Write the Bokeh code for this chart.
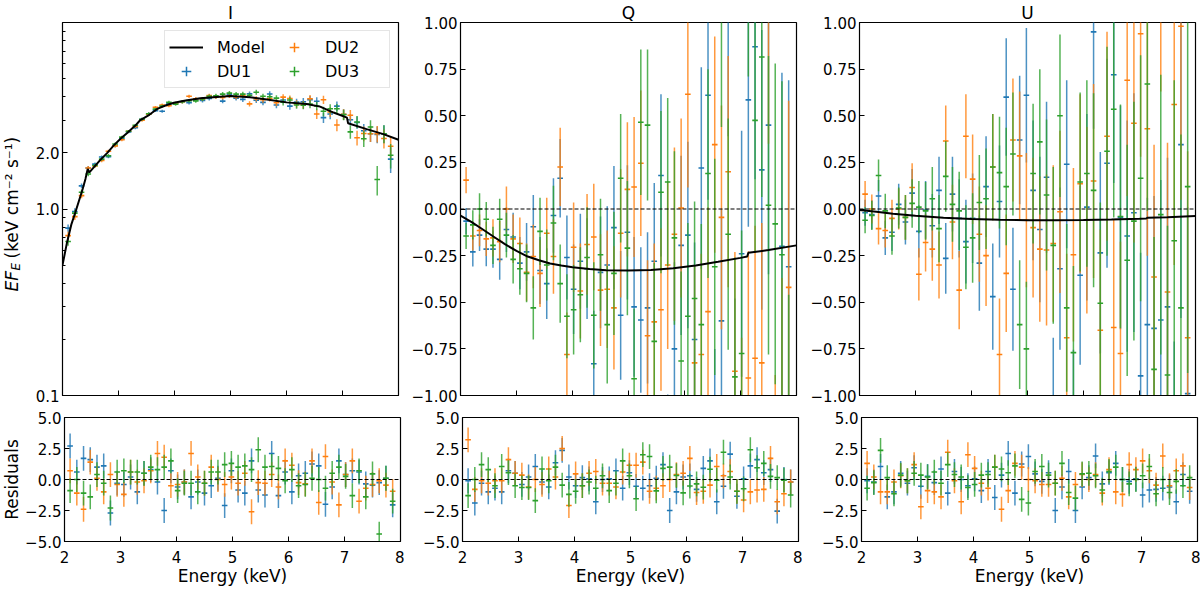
import numpy as np

from bokeh.plotting import figure
from bokeh.layouts import column, row
from bokeh.models import ColumnDataSource, Range1d, FixedTicker, Span, Legend, LegendItem
from bokeh.core.properties import value
from bokeh.embed import file_html
from bokeh.resources import INLINE

font = 'DejaVu Sans'
tick_font_size = '15px'
label_font_size = '17px'
du_colors = ['#1f77b4', '#ff7f0e', '#2ca02c']
du_names = ['DU1', 'DU2', 'DU3']
x_half_width = 0.05
frame_w = 336
top_h = 373
res_h = 124
label_w = 22

# bin centres (keV)
energy = [2.10, 2.22, 2.34, 2.46, 2.58, 2.70, 2.82, 2.94, 3.06, 3.18, 3.30, 3.42, 3.54,
          3.66, 3.78, 3.90, 4.02, 4.14, 4.26, 4.38, 4.50, 4.62, 4.74, 4.86, 4.98, 5.10,
          5.22, 5.34, 5.46, 5.58, 5.70, 5.82, 5.94, 6.06, 6.18, 6.30, 6.42, 6.54, 6.66,
          6.78, 6.90, 7.02, 7.14, 7.26, 7.38, 7.50, 7.62, 7.74, 7.86]
energy_ticks = [2, 3, 4, 5, 6, 7, 8]

# Stokes I  (E F_E)
i_du1 = [0.79, 0.97, 1.33, 1.66, 1.74, 1.90, 1.91, 2.19, 2.38, 2.59, 2.73, 3.03, 3.23, 3.37,
         3.34, 3.67, 3.68, 3.77, 3.72, 3.86, 3.82, 3.91, 4.00, 3.79, 4.11, 3.93, 3.87, 4.15,
         3.83, 3.73, 4.14, 3.61, 3.84, 3.56, 3.74, 3.76, 3.86, 3.78, 3.09, 3.23, 3.56, 3.22,
         3.01, 2.91, 2.63, 2.53, 2.51, 2.53, 1.85]
i_du2 = [0.72, 0.91, 1.18, 1.66, 1.70, 1.82, 2.04, 2.18, 2.35, 2.61, 2.77, 2.99, 3.22, 3.51,
         3.61, 3.58, 3.69, 3.76, 4.02, 3.90, 3.89, 4.06, 3.99, 3.97, 4.05, 3.99, 4.06, 3.66,
         3.90, 3.85, 3.91, 3.71, 3.98, 3.91, 3.66, 3.62, 3.90, 3.23, 3.85, 3.31, 2.82, 3.22,
         3.18, 2.41, 2.54, 2.53, 2.53, 2.39, 2.17]
i_du3 = [0.67, 0.95, 1.23, 1.54, 1.71, 1.85, 1.93, 2.23, 2.43, 2.61, 2.81, 3.03, 3.24, 3.43,
         3.56, 3.73, 3.65, 3.76, 3.81, 3.80, 3.89, 4.02, 4.05, 4.13, 4.18, 4.13, 4.13, 4.07,
         4.23, 4.02, 4.00, 3.93, 3.74, 3.84, 3.61, 3.60, 3.65, 3.57, 3.34, 3.45, 3.45, 3.20,
         2.59, 2.93, 2.38, 2.75, 1.44, 2.53, 1.94]
i_err = [0.035, 0.038, 0.038, 0.040, 0.037, 0.037, 0.040, 0.044, 0.043, 0.046, 0.050, 0.054,
         0.057, 0.061, 0.063, 0.072, 0.074, 0.076, 0.084, 0.085, 0.094, 0.095, 0.104, 0.104,
         0.113, 0.113, 0.120, 0.120, 0.126, 0.132, 0.139, 0.144, 0.150, 0.156, 0.166, 0.176,
         0.180, 0.190, 0.195, 0.200, 0.210, 0.210, 0.210, 0.220, 0.230, 0.240, 0.260, 0.280, 0.290]

# Stokes Q and U (normalised)
q_du1 = [-0.065, -0.23, -0.14, -0.215, -0.215, -0.27, -0.11, -0.15, -0.29, -0.23, -0.095, -0.33,
         -0.40, -0.035, 0.165, -0.26, -0.43, -0.28, -0.32, -0.83, -0.34, -0.30, -0.10, -0.57,
         -0.125, -0.525, -0.595, -0.53, -0.28, 0.18, -1.445, -0.75, -0.195, -0.14, -0.70, 0.22,
         0.61, -1.33, -0.60, 1.01, -1.12, -0.24, 0.585, 0.87, 0.21, 0.45, -2.43, -0.20, -0.31]
q_du2 = [0.155, -0.145, -0.115, -0.16, -0.155, -0.175, 0.0, -0.16, -0.185, -0.34, -0.255, -0.345,
         -0.13, -0.255, 0.225, -0.78, -0.205, -0.44, -0.19, -0.15, -0.435, -0.43, -0.53, -0.13,
         0.105, 0.118, 0.245, -0.68, -0.605, -0.54, -0.30, -0.135, 0.005, 0.615, -0.825, -0.78,
         -0.55, 0.345, -0.045, 0.20, -0.87, -1.35, -0.906, -0.80, -0.825, 1.15, -1.75, -1.30, -0.42]
q_du3 = [-0.145, -0.085, 0.0, -0.055, -0.195, -0.055, -0.14, -0.27, -0.32, -0.345, -0.53, -0.12,
         -0.30, -0.075, -0.40, -0.575, -0.54, -0.46, -0.26, -0.57, -0.245, -0.62, -0.345, 0.165,
         -0.21, -0.91, 0.465, 0.45, -0.71, 0.09, 0.145, -0.155, -0.815, -0.575, -0.48, -0.62,
         0.19, -0.31, 1.04, -0.135, -0.90, -0.775, 1.39, 0.475, 0.815, 0.02, -0.08, -0.245, -1.46]
u_du1 = [-0.02, -0.03, 0.07, -0.155, -0.125, 0.025, -0.07, 0.085, -0.12, -0.005, -0.09, 0.10,
         -0.265, 0.08, -0.05, -0.175, -0.05, -0.29, 0.12, -0.47, 0.04, 0.60, -0.43, 0.37, 0.61,
         0.10, -0.11, 0.17, -1.11, -0.32, 0.24, -1.22, -0.355, 0.01, 0.95, -0.235, 0.245, 0.72,
         -0.045, -0.145, -0.02, -0.895, -0.62, -0.64, -0.595, -0.525, -1.57, 0.345, -0.99]
u_du2 = [0.08, 0.0, -0.105, -0.115, -0.05, 0.0, -0.045, 0.115, -0.35, -0.18, -0.215, -0.30,
         0.365, -0.07, -0.435, 0.39, 0.16, -0.135, -0.25, 0.225, -0.78, -0.345, 0.37, 0.285,
         -0.06, -0.10, -0.215, -0.22, -0.185, -0.015, -0.69, -0.245, 0.135, -0.06, 0.15, -0.65,
         0.39, -0.635, -0.775, 0.69, 0.46, 0.94, 0.43, -0.365, 1.38, -0.445, 0.56, 0.98, -0.69]
u_du3 = [-0.06, -0.035, 0.18, -0.01, -0.145, 0.005, -0.045, 0.03, 0.01, -0.01, 0.055, -0.105,
         0.175, 0.025, -0.01, -0.205, -0.155, 0.035, 0.055, 0.225, 0.195, 0.12, 0.295, -0.62,
         -0.75, 0.19, 0.36, 0.075, -0.195, 0.50, -0.53, -0.77, 0.145, 0.19, 0.10, -0.505, 0.31,
         0.535, -0.04, -0.275, -0.065, 0.165, 0.67, -0.86, -0.03, -0.89, -0.17, -0.53, 0.12]
pol_err = [0.07, 0.078, 0.085, 0.092, 0.10, 0.11, 0.12, 0.13, 0.14, 0.155, 0.17, 0.18, 0.19,
           0.20, 0.21, 0.225, 0.24, 0.255, 0.27, 0.285, 0.30, 0.315, 0.33, 0.345, 0.36, 0.375,
           0.39, 0.405, 0.42, 0.435, 0.45, 0.465, 0.48, 0.50, 0.52, 0.54, 0.56, 0.58, 0.60,
           0.62, 0.64, 0.66, 0.68, 0.71, 0.75, 0.80, 0.86, 0.93, 1.00]

# residuals (data - model) / error
res_i_du1 = [2.7, 0.6, 1.7, 1.6, 1.0, 1.1, -2.7, -0.3, -0.4, 0.2, -1.0, 0.5, 0.8, -0.2, -2.5,
             0.7, -0.6, -0.2, -1.4, -0.2, -1.1, -0.5, 0.1, -2.1, 0.7, -0.85, -1.1, 1.5, -0.85,
             -1.25, 2.1, -1.3, 0.6, -1.0, 0.3, 0.5, 1.25, 1.1, -2.0, -0.6, 1.5, 0.4, 0.7, 0.6,
             -0.35, -0.45, -0.25, 0.1, -2.05]
res_i_du2 = [0.7, -1.1, -2.4, 1.4, 0.1, -1.0, 0.4, -0.4, -1.2, 0.6, -0.2, -0.1, 0.7, 2.1, 1.8,
             -0.5, -0.4, -0.2, 2.1, 0.2, -0.3, 1.0, 0.0, -0.4, 0.2, -0.3, 0.5, -2.6, -0.25, -0.3,
             0.4, -0.6, 1.5, 1.15, -0.25, -0.35, 1.5, -1.85, 1.85, -0.2, -2.05, 0.4, 1.5, -1.75,
             -0.7, -0.4, -0.1, -0.45, -0.95]
res_i_du3 = [-0.9, 0.0, -1.1, -1.4, 0.4, -0.3, -2.3, 0.6, 0.7, 0.6, 0.6, 0.5, 1.0, 0.8, 1.0,
             1.5, -0.9, -0.3, -0.3, -1.0, -0.3, 0.6, 0.6, 1.2, 1.3, 1.0, 1.1, 0.8, 2.4, 1.0, 1.05,
             0.9, -0.1, 0.8, -0.5, -0.4, 0.1, 0.0, -0.7, 0.5, 1.0, 0.25, -1.3, 0.7, -1.4, 0.45,
             -4.4, 0.1, -1.75]
res_q_du1 = [-0.1, -1.9, -0.3, -1.0, -0.7, -1.0, 0.7, 0.5, -0.4, 0.2, 1.05, -0.2, -0.6, 1.35,
             2.35, 0.2, -0.5, 0.15, 0.05, -1.8, 0.0, 0.05, 0.7, -0.7, 0.55, -0.55, -0.7, -0.5,
             0.1, 1.2, -2.5, -1.0, 0.2, 0.3, -0.8, 0.9, 1.5, -1.8, -0.55, 2.05, -1.35, 0.05, 1.1,
             1.6, 0.55, 0.8, -2.55, 0.0, -0.2]
res_q_du2 = [3.2, -0.8, -0.1, -0.3, -0.1, -0.1, 1.6, 0.5, 0.35, -0.6, 0.0, -0.4, 0.85, 0.2, 2.5,
             -2.1, 0.45, -0.5, 0.5, 0.65, -0.3, -0.3, -0.6, 0.6, 1.15, 1.15, 1.4, -0.95, -0.7,
             -0.5, 0.0, 0.4, 0.5, 1.7, -1.05, -0.95, -0.45, 1.05, 0.3, 0.65, -0.95, -1.65, -1.0,
             -0.85, -0.8, 1.7, -1.8, -1.15, -0.2]
res_q_du3 = [-1.3, 0.0, 1.2, 0.8, -0.5, 1.05, 0.55, -0.5, -0.65, -0.65, -1.7, 0.85, -0.1, 1.0,
             -0.45, -1.2, -0.95, -0.5, -0.2, -0.7, 0.3, -0.9, -0.3, 1.5, 0.3, -1.55, 2.0, 1.85,
             -0.92, 0.9, 1.0, 0.32, -1.08, -0.53, -0.35, -0.62, 0.83, -0.05, 2.2, 0.2, -0.95,
             -0.75, 2.4, 0.95, 1.3, 0.25, 0.15, -0.05, -1.25]
res_u_du1 = [-0.1, -0.2, 1.05, -1.4, -1.0, 0.5, -0.3, 0.95, -0.55, 0.25, -0.25, 0.85, -1.1, 0.65,
             0.0, -0.5, 0.05, -0.9, 0.65, -1.45, 0.35, 2.1, -1.1, 1.25, 1.85, 0.45, -0.15, 0.55,
             -2.5, -0.6, 0.65, -2.5, -0.6, 0.15, 1.9, -0.35, 0.55, 1.3, 0.0, -0.15, 0.05, -1.25,
             -0.85, -0.8, -0.7, -0.6, -1.8, 0.4, -0.95]
res_u_du2 = [1.3, 0.2, -1.0, -1.0, -0.2, 0.3, -0.1, 1.2, -2.2, -0.9, -1.0, -1.4, 2.2, -0.1, -1.8,
             2.0, 0.9, -0.3, -0.7, 1.0, -2.4, -0.9, 1.3, 1.0, 0.0, -0.1, -0.4, -0.4, -0.3, 0.1,
             -1.4, -0.4, 0.4, 0.0, 0.4, -1.1, 0.8, -1.0, -1.2, 1.2, 0.8, 1.5, 0.7, -0.45, 1.9,
             -0.5, 0.7, 1.1, -0.65]
res_u_du3 = [-0.7, -0.25, 2.35, 0.15, -1.15, 0.35, -0.1, 0.5, 0.35, 0.2, 0.6, -0.3, 1.2, 0.4,
             0.2, -0.65, -0.4, 0.35, 0.4, 1.0, 0.85, 0.55, 1.1, -1.6, -1.9, 0.65, 1.05, 0.35,
             -0.3, 1.3, -1.05, -1.5, 0.45, 0.5, 0.3, -0.85, 0.65, 1.0, 0.0, -0.35, 0.0, 0.3,
             1.05, -1.15, 0.0, -1.05, -0.15, -0.5, 0.15]
res_err = 1.0

# best-fit model curves
model_i_e = [2.00, 2.08, 2.16, 2.23, 2.30, 2.36, 2.41, 2.45, 2.48, 2.55, 2.68, 2.80, 2.92, 3.05,
             3.15, 3.30, 3.39, 3.55, 3.69, 3.85, 3.99, 4.20, 4.46, 4.75, 5.00, 5.35, 5.65, 6.00,
             6.36, 6.60, 6.84, 7.08, 7.10, 7.43, 7.73, 8.00]
model_i = [0.50, 0.66, 0.83, 0.96, 1.12, 1.28, 1.45, 1.64, 1.57, 1.66, 1.84, 2.00, 2.20, 2.40,
           2.55, 2.80, 3.00, 3.20, 3.44, 3.60, 3.71, 3.82, 3.92, 3.99, 4.03, 3.97, 3.87, 3.73,
           3.66, 3.54, 3.29, 3.09, 2.88, 2.68, 2.52, 2.35]
model_q_e = [2.0, 2.2, 2.4, 2.6, 2.8, 3.0, 3.2, 3.4, 3.6, 3.8, 4.0, 4.3, 4.6, 5.0, 5.4, 5.8, 6.2,
             6.6, 7.0, 7.12, 7.14, 7.5, 8.0]
model_q = [-0.035, -0.07, -0.11, -0.15, -0.19, -0.225, -0.255, -0.275, -0.292, -0.303, -0.312,
           -0.322, -0.328, -0.330, -0.327, -0.318, -0.303, -0.283, -0.262, -0.255, -0.235,
           -0.22, -0.195]
model_u_e = [2.0, 2.3, 2.6, 3.0, 3.5, 4.0, 4.5, 5.0, 5.5, 6.0, 6.5, 7.0, 7.12, 7.14, 7.5, 8.0]
model_u = [-0.005, -0.015, -0.025, -0.036, -0.047, -0.054, -0.058, -0.060, -0.060, -0.059,
           -0.056, -0.052, -0.051, -0.047, -0.044, -0.038]

pol_ticks = [-1.0, -0.75, -0.5, -0.25, 0.0, 0.25, 0.5, 0.75, 1.0]
pol_tick_labels = ['\u22121.00', '\u22120.75', '\u22120.50', '\u22120.25', '0.00', '0.25', '0.50', '0.75', '1.00']
res_ticks = [-5.0, -2.5, 0.0, 2.5, 5.0]
res_tick_labels = ['\u22125.0', '\u22122.5', '0.0', '2.5', '5.0']
i_ticks = [0.1, 1.0, 2.0]
i_tick_labels = ['0.1', '1.0', '2.0']
i_minor_ticks = [0.2, 0.3, 0.4, 0.5, 0.6, 0.7, 0.8, 0.9, 3, 4, 5, 6, 7, 8, 9]


def make_panel(y_range, frame_h, y_axis_type='linear', top=0, bottom=0, left=58, right=4, title=None):
    p = figure(frame_width=frame_w, frame_height=frame_h, x_range=Range1d(2, 8), y_range=y_range,
               y_axis_type=y_axis_type, output_backend='svg', toolbar_location=None,
               min_border_left=left, min_border_right=right, min_border_top=top,
               min_border_bottom=bottom)
    p.background_fill_color = 'white'
    p.border_fill_color = 'white'
    p.xgrid.visible = False
    p.ygrid.visible = False
    p.outline_line_color = 'black'
    p.outline_line_width = 1.2
    if title:
        p.title.text = title
        p.title.align = 'center'
        p.title.text_font = font
        p.title.text_font_size = '17px'
        p.title.text_font_style = 'normal'
        p.title.text_color = 'black'
        p.title.standoff = 0
    return p


def make_label_strip(frame_h, top, bottom):
    # narrow strip left of the first column that carries the rotated y labels
    f = figure(frame_width=label_w, frame_height=frame_h, x_range=Range1d(0, label_w),
               y_range=Range1d(0, frame_h), x_axis_location=None, y_axis_location=None,
               output_backend='svg', toolbar_location=None, min_border_left=0,
               min_border_right=0, min_border_top=top, min_border_bottom=bottom)
    f.outline_line_color = None
    f.grid.visible = False
    f.background_fill_color = 'white'
    f.border_fill_color = 'white'
    return f


def style_axes(p, y_ticks, y_labels, minor=None, x_labels=False):
    p.xaxis.ticker = FixedTicker(ticks=energy_ticks, minor_ticks=[])
    p.xaxis.major_label_overrides = {t: str(t) for t in energy_ticks}
    p.yaxis.ticker = FixedTicker(ticks=y_ticks, minor_ticks=minor or [])
    p.yaxis.major_label_overrides = dict(zip(y_ticks, y_labels))
    for ax in [*p.xaxis, *p.yaxis]:
        ax.axis_line_color = 'black'
        ax.major_tick_in = 5
        ax.major_tick_out = 0
        ax.minor_tick_in = 3
        ax.minor_tick_out = 0
        ax.major_tick_line_color = 'black'
        ax.minor_tick_line_color = 'black'
        ax.major_label_text_font = font
        ax.major_label_text_font_size = tick_font_size
        ax.major_label_text_color = 'black'
        ax.major_label_standoff = 3
    if x_labels:
        p.xaxis.major_label_standoff = 9
        p.xaxis.axis_label = 'Energy (keV)'
        p.xaxis.axis_label_text_font = font
        p.xaxis.axis_label_text_font_size = label_font_size
        p.xaxis.axis_label_text_font_style = 'normal'
        p.xaxis.axis_label_text_color = 'black'
        p.xaxis.axis_label_standoff = 0
    else:
        # ticks only, no tick labels (shared x axis)
        p.xaxis.major_label_text_color = None
        p.xaxis.major_label_text_font_size = '1px'
        p.xaxis.major_label_standoff = 0


def draw_errorbars(p, y, yerr, color):
    x = np.array(energy)
    y = np.array(y)
    yerr = np.array(yerr)
    source = ColumnDataSource(dict(x=x, y=y, low=y - yerr, high=y + yerr,
                                   left=x - x_half_width, right=x + x_half_width))
    p.segment('x', 'low', 'x', 'high', source=source, line_color=color, line_width=1.5, line_alpha=0.8)
    p.segment('left', 'y', 'right', 'y', source=source, line_color=color, line_width=1.6)
    return source


def zero_line(p):
    p.add_layout(Span(location=0, dimension='width', line_color='black', line_width=1.2, line_dash='4 2'))


# ---- top row ----
p_i = make_panel(Range1d(0.1, 10), top_h, y_axis_type='log', bottom=10, left=40, right=4, title='I')
p_q = make_panel(Range1d(-1, 1), top_h, bottom=10, left=58, right=4, title='Q')
p_u = make_panel(Range1d(-1, 1), top_h, bottom=10, left=59, right=3, title='U')

style_axes(p_i, i_ticks, i_tick_labels, minor=i_minor_ticks)
style_axes(p_q, pol_ticks, pol_tick_labels)
style_axes(p_u, pol_ticks, pol_tick_labels)

i_sources = [draw_errorbars(p_i, vals, i_err, color)
             for vals, color in zip([i_du1, i_du2, i_du3], du_colors)]
model_line = p_i.line(model_i_e, model_i, line_color='black', line_width=2)

zero_line(p_q)
for vals, color in zip([q_du1, q_du2, q_du3], du_colors):
    draw_errorbars(p_q, vals, pol_err, color)
p_q.line(model_q_e, model_q, line_color='black', line_width=2)

zero_line(p_u)
for vals, color in zip([u_du1, u_du2, u_du3], du_colors):
    draw_errorbars(p_u, vals, pol_err, color)
p_u.line(model_u_e, model_u, line_color='black', line_width=2)

# legend: zero-size cross markers on the data, used only for their legend glyphs
markers = [p_i.scatter('x', 'y', source=src, marker='cross', size=0, line_color=c, line_width=1.5)
           for src, c in zip(i_sources, du_colors)]
legend = Legend(items=[LegendItem(label='Model', renderers=[model_line])] +
                [LegendItem(label=n, renderers=[m]) for n, m in zip(du_names, markers)],
                location='top_right', orientation='vertical', ncols=2,
                label_text_font=font, label_text_font_size='16px', label_text_color='black',
                glyph_width=34, glyph_height=24, label_standoff=14, label_width=60,
                spacing=0, padding=4, margin=8,
                border_line_color='#cccccc', border_line_width=1, background_fill_alpha=0.8)
p_i.add_layout(legend)

# y label  E F_E (keV cm^-2 s^-1)
strip_top = make_label_strip(top_h, 22, 10)
strip_top.text(x=[11], y=[104], text=['EF'], angle=np.pi / 2, text_align='left',
               text_baseline='middle', text_font=value(font), text_font_style='italic',
               text_font_size='17px', text_color='black')
strip_top.text(x=[15], y=[125], text=['E'], angle=np.pi / 2, text_align='left',
               text_baseline='middle', text_font=value(font), text_font_style='italic',
               text_font_size='12px', text_color='black')
strip_top.text(x=[11], y=[137], text=['(keV cm\u207b\u00b2 s\u207b\u00b9)'], angle=np.pi / 2,
               text_align='left', text_baseline='middle', text_font=value(font),
               text_font_size='17px', text_color='black')

# ---- residual row ----
r_i = make_panel(Range1d(-5, 5), res_h, top=12, left=40, right=4)
r_q = make_panel(Range1d(-5, 5), res_h, top=12, left=58, right=4)
r_u = make_panel(Range1d(-5, 5), res_h, top=12, left=59, right=3)
for r_p, res_lists in zip([r_i, r_q, r_u],
                          [[res_i_du1, res_i_du2, res_i_du3],
                           [res_q_du1, res_q_du2, res_q_du3],
                           [res_u_du1, res_u_du2, res_u_du3]]):
    style_axes(r_p, res_ticks, res_tick_labels, x_labels=True)
    zero_line(r_p)
    for vals, color in zip(res_lists, du_colors):
        draw_errorbars(r_p, vals, res_err, color)

strip_res = make_label_strip(res_h, 12, 45)
strip_res.text(x=[11], y=[res_h / 2], text=['Residuals'], angle=np.pi / 2, text_align='center',
               text_baseline='middle', text_font=value(font), text_font_size='17px',
               text_color='black')

layout = column(row(strip_top, p_i, p_q, p_u), row(strip_res, r_i, r_q, r_u))
open("out.html", "w").write(file_html(layout, INLINE, title='IXPE spectro-polarimetric fit'))
